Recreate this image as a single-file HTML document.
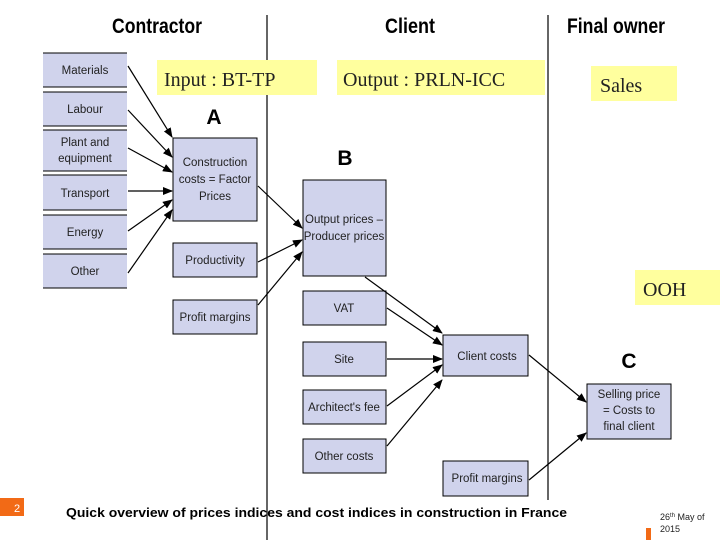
<!DOCTYPE html>
<html><head><meta charset="utf-8"><style>
html,body{margin:0;padding:0;background:#fff;}
svg{display:block;}
.h{font-family:"Liberation Sans",sans-serif;font-weight:bold;font-size:21px;}
.b{font-family:"Liberation Sans",sans-serif;font-size:11.5px;fill:#222;}
.y{font-family:"Liberation Serif",serif;font-size:20px;fill:#222;}
</style></head><body>
<svg width="720" height="540" viewBox="0 0 720 540" xmlns="http://www.w3.org/2000/svg">
<defs><marker id="a" markerWidth="10" markerHeight="8" refX="9" refY="4" orient="auto" markerUnits="userSpaceOnUse"><path d="M0,0 L10,4 L0,8 Z" fill="#000"/></marker></defs>
<text class="h" x="157" y="33" text-anchor="middle" transform="scale(1,1)" textLength="90" lengthAdjust="spacingAndGlyphs">Contractor</text>
<text class="h" x="410" y="33" text-anchor="middle" textLength="50" lengthAdjust="spacingAndGlyphs">Client</text>
<text class="h" x="616" y="33" text-anchor="middle" textLength="98" lengthAdjust="spacingAndGlyphs">Final owner</text>
<line x1="267" y1="15" x2="267" y2="540" stroke="#000" stroke-width="1.2"/>
<line x1="548" y1="15" x2="548" y2="500" stroke="#000" stroke-width="1.2"/>
<rect x="157" y="60" width="160" height="35" fill="#ffff9e"/>
<text class="y" x="164" y="86">Input : BT-TP</text>
<rect x="337" y="60" width="208" height="35" fill="#ffff9e"/>
<text class="y" x="343" y="86">Output : PRLN-ICC</text>
<rect x="591" y="66" width="86" height="35" fill="#ffff9e"/>
<text class="y" x="600" y="92">Sales</text>
<rect x="635" y="270" width="85" height="35" fill="#ffff9e"/>
<text class="y" x="643" y="296">OOH</text>
<g fill="#d0d3ec" stroke="#000" stroke-width="1">
<rect x="43" y="53" width="84" height="34" stroke="none"/><rect x="43" y="92" width="84" height="34" stroke="none"/><rect x="43" y="130" width="84" height="41" stroke="none"/><rect x="43" y="175" width="84" height="35" stroke="none"/><rect x="43" y="215" width="84" height="34" stroke="none"/><rect x="43" y="254" width="84" height="34" stroke="none"/>
<rect x="173" y="138" width="84" height="83"/><rect x="173" y="243" width="84" height="34"/><rect x="173" y="300" width="84" height="34"/>
<rect x="303" y="180" width="83" height="96"/><rect x="303" y="291" width="83" height="34"/><rect x="303" y="342" width="83" height="34"/><rect x="303" y="390" width="83" height="34"/><rect x="303" y="439" width="83" height="34"/>
<rect x="443" y="335" width="85" height="41"/><rect x="443" y="461" width="85" height="35"/>
<rect x="587" y="384" width="84" height="55"/>
</g>
<g stroke="#000" stroke-width="1">
<line x1="43" y1="53" x2="127" y2="53"/><line x1="43" y1="87" x2="127" y2="87"/><line x1="43" y1="92" x2="127" y2="92"/><line x1="43" y1="126" x2="127" y2="126"/><line x1="43" y1="130" x2="127" y2="130"/><line x1="43" y1="171" x2="127" y2="171"/><line x1="43" y1="175" x2="127" y2="175"/><line x1="43" y1="210" x2="127" y2="210"/><line x1="43" y1="215" x2="127" y2="215"/><line x1="43" y1="249" x2="127" y2="249"/><line x1="43" y1="254" x2="127" y2="254"/><line x1="43" y1="288" x2="127" y2="288"/>
</g>
<g class="b" text-anchor="middle">
<text x="85" y="74">Materials</text><text x="85" y="113">Labour</text><text x="85" y="146">Plant and</text><text x="85" y="162">equipment</text><text x="85" y="197">Transport</text><text x="85" y="236">Energy</text><text x="85" y="275">Other</text>
<text x="215" y="166">Construction</text><text x="215" y="183">costs = Factor</text><text x="215" y="200">Prices</text>
<text x="215" y="264">Productivity</text><text x="215" y="321">Profit margins</text>
<text x="344" y="223">Output prices –</text><text x="344" y="240">Producer prices</text>
<text x="344" y="312">VAT</text><text x="344" y="363">Site</text><text x="344" y="411">Architect's fee</text><text x="344" y="460">Other costs</text>
<text x="487" y="360">Client costs</text><text x="487" y="482">Profit margins</text>
<text x="629" y="398">Selling price</text><text x="629" y="414">= Costs to</text><text x="629" y="430">final client</text>
</g>
<g class="h" font-size="20" text-anchor="middle"><text x="214" y="124">A</text><text x="345" y="165">B</text><text x="629" y="368">C</text></g>
<g stroke="#000" stroke-width="1.2" marker-end="url(#a)">
<line x1="128" y1="66" x2="172" y2="137"/><line x1="128" y1="110" x2="172" y2="157"/><line x1="128" y1="148" x2="172" y2="172"/><line x1="128" y1="191" x2="172" y2="191"/><line x1="128" y1="231" x2="172" y2="200"/><line x1="128" y1="273" x2="172" y2="210"/>
<line x1="258" y1="186" x2="302" y2="228"/><line x1="258" y1="262" x2="302" y2="240"/><line x1="258" y1="305" x2="302" y2="252"/>
<line x1="365" y1="277" x2="442" y2="333"/><line x1="387" y1="308" x2="442" y2="345"/><line x1="387" y1="359" x2="442" y2="359"/><line x1="387" y1="406" x2="442" y2="365"/><line x1="387" y1="446" x2="442" y2="380"/>
<line x1="529" y1="355" x2="586" y2="402"/><line x1="529" y1="480" x2="586" y2="433"/>
</g>
<rect x="0" y="498" width="24" height="18" fill="#f26a16"/>
<text x="17" y="512" font-family="Liberation Sans,sans-serif" font-size="11" fill="#fff" text-anchor="middle">2</text>
<text x="66" y="517" font-family="Liberation Sans,sans-serif" font-size="12.5" font-weight="bold" fill="#000" textLength="501" lengthAdjust="spacingAndGlyphs">Quick overview of prices indices and cost indices in construction in France</text>
<text x="660" y="520" font-family="Liberation Sans,sans-serif" font-size="9" fill="#222">26<tspan font-size="6" dy="-3">th</tspan><tspan dy="3"> May of</tspan></text>
<text x="660" y="532" font-family="Liberation Sans,sans-serif" font-size="9" fill="#222">2015</text>
<rect x="646" y="528" width="5" height="12" fill="#f26a16"/>
</svg>
</body></html>
